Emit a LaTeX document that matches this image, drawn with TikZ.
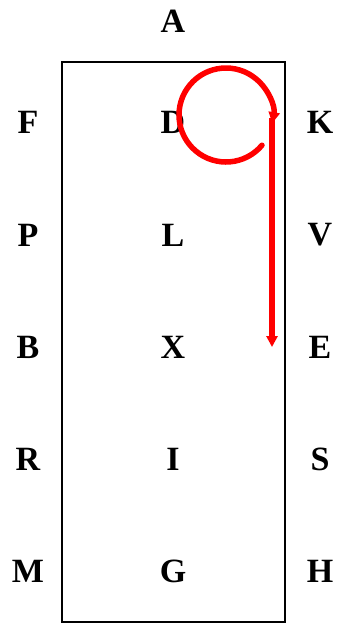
\documentclass[tikz,border=0pt]{standalone}
\usepackage{fontspec}
\setmainfont{Liberation Serif}
\usetikzlibrary{arrows.meta}
\begin{document}
\begin{tikzpicture}[x=1pt,y=-1pt,
  lab/.style={font=\fontsize{34}{34}\selectfont\bfseries, inner sep=0pt},
  redline/.style={draw=red, line width=5.5pt, -{Triangle[length=11pt,width=11pt]}}]
\useasboundingbox (0,0) rectangle (346,625);
\draw[line width=2pt] (62,62) rectangle (285,622);
\node[lab] (A) at (173,21) {A};
\node[lab] (F) at (28,122) {F};
\node[lab] (D) at (173,122) {D};
\node[lab] (K) at (320,122) {K};
\node[lab] (P) at (28,235) {P};
\node[lab] (L) at (173,235) {L};
\node[lab] (V) at (320,235) {V};
\node[lab] (B) at (28,347) {B};
\node[lab] (X) at (173,347) {X};
\node[lab] (E) at (320,347) {E};
\node[lab] (R) at (28,459) {R};
\node[lab] (I) at (173,459) {I};
\node[lab] (S) at (320,459) {S};
\node[lab] (M) at (28,571) {M};
\node[lab] (G) at (173,571) {G};
\node[lab] (H) at (320,571) {H};
\coordinate (c) at (226,115);
\draw[redline, line cap=round] (c) ++(40:47) arc[start angle=40, end angle=370, radius=47];
\coordinate (t1) at (272,118);
\coordinate (t2) at (272,347);
\draw[redline] (t1) -- (t2);
\end{tikzpicture}
\end{document}
